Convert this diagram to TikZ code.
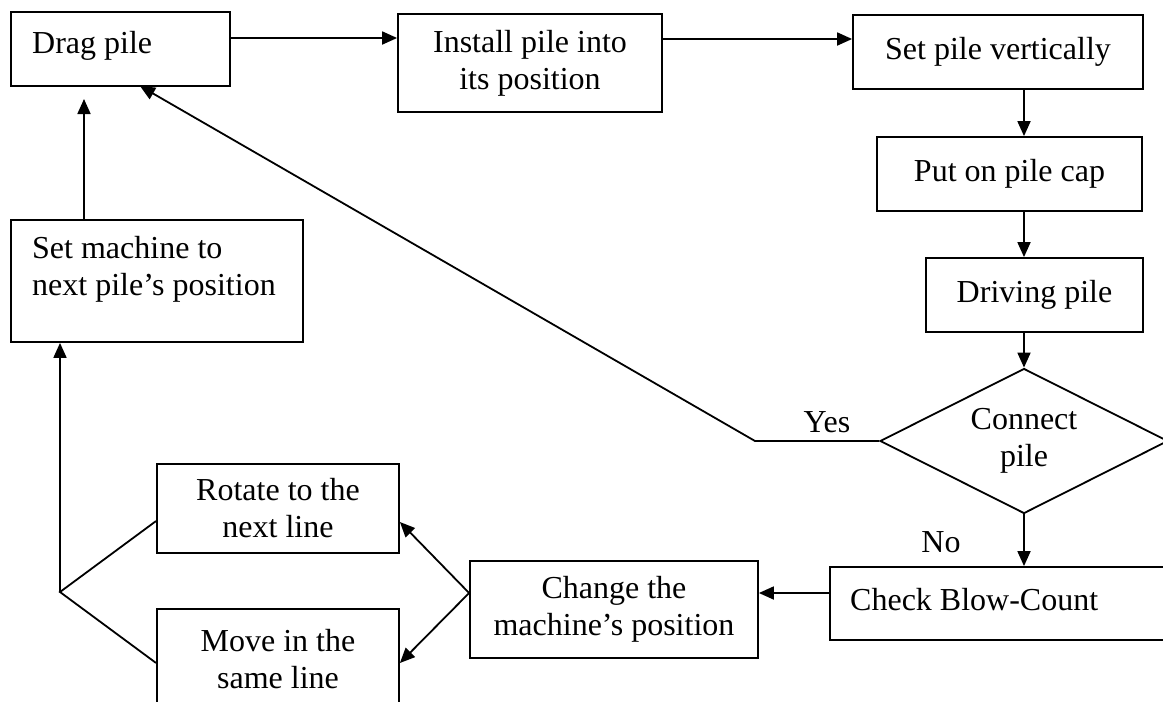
\documentclass[tikz,border=0pt]{standalone}
\usepackage{fontspec}
\setmainfont{Liberation Serif}
\usetikzlibrary{arrows.meta,shapes.geometric}
\begin{document}
\begin{tikzpicture}[x=1pt,y=-1pt,
  box/.style={draw,line width=1.8pt,rectangle,inner sep=0pt,align=center,
    font=\fontsize{32}{37}\selectfont},
  lbl/.style={inner sep=0pt,align=left,font=\fontsize{32}{37}\selectfont},
  arr/.style={line width=1.8pt,-{Triangle[length=15pt,width=13pt]}},
  ln/.style={line width=1.8pt}]
\useasboundingbox (0,0) rectangle (1163,702);
% boxes
\node[box,minimum width=219,minimum height=74] (drag) at (120.5,49) {};
\node[lbl,anchor=west] (dragt) at (32,46) {Drag pile};
\node[box,minimum width=264,minimum height=98] (inst) at (530,63) {Install pile into\\its position};
\node[box,minimum width=290,minimum height=74] (setv) at (998,52) {Set pile vertically};
\node[box,minimum width=265,minimum height=74] (cap) at (1009.5,174) {Put on pile cap};
\node[box,minimum width=217,minimum height=74] (drive) at (1034.5,295) {Driving pile};
\node[draw,line width=1.8pt,diamond,minimum width=288,minimum height=145,inner sep=0pt] (dec) at (1024,441) {};
\node[lbl,align=center] (dect) at (1024,441) {Connect\\pile};
\node[box,minimum width=340,minimum height=73] (check) at (1000,603.5) {};
\node[lbl,anchor=west] (checkt) at (850,600) {Check Blow-Count};
\node[box,minimum width=288,minimum height=97] (change) at (614,609.5) {Change the\\machine's position};
\node[box,minimum width=242,minimum height=89] (rot) at (278,508.5) {Rotate to the\\next line};
\node[box,minimum width=242,minimum height=100] (move) at (278,659) {Move in the\\same line};
\node[box,minimum width=292,minimum height=122] (setm) at (157,281) {};
\node[lbl,anchor=west] (setmt) at (32,269) {Set machine to\\next pile's position};
% helper coordinates
\coordinate (r1) at (0,38);
\coordinate (r2) at (0,39);
\coordinate (col) at (1024,0);
\coordinate (yesk) at (755,441);
\coordinate (dragtip) at (140,86);
\coordinate (ch) at (0,593);
\coordinate (rr) at (0,522);
\coordinate (rl) at (0,521);
\coordinate (mr) at (0,663);
\coordinate (J) at (60,592);
\coordinate (up) at (84,0);
\coordinate (dtip) at (84,99);
% connectors
\draw[arr] (drag.east |- r1) -- (inst.west |- r1);
\draw[arr] (inst.east |- r2) -- (setv.west |- r2);
\draw[arr] (setv.south -| col) -- (cap.north -| col);
\draw[arr] (cap.south -| col) -- (drive.north -| col);
\draw[arr] (drive.south -| col) -- (dec.north);
\draw[arr] (dec.south) -- (check.north -| col);
\draw[ln,-{Triangle[length=15pt,width=13pt]}] (dec.west) -- (yesk) -- (dragtip);
\draw[arr] (check.west |- ch) -- (change.east |- ch);
\draw[arr] (change.west |- ch) -- (rot.east |- rr);
\draw[arr] (change.west |- ch) -- (move.east |- mr);
\draw[ln] (rot.west |- rl) -- (J) -- (move.west |- mr);
\draw[arr] (J) -- (setm.south -| J);
\draw[arr] (setm.north -| up) -- (dtip);
% labels
\node[lbl] (yes) at (827,422) {Yes};
\node[lbl] (no) at (941,542) {No};
\end{tikzpicture}
\end{document}
